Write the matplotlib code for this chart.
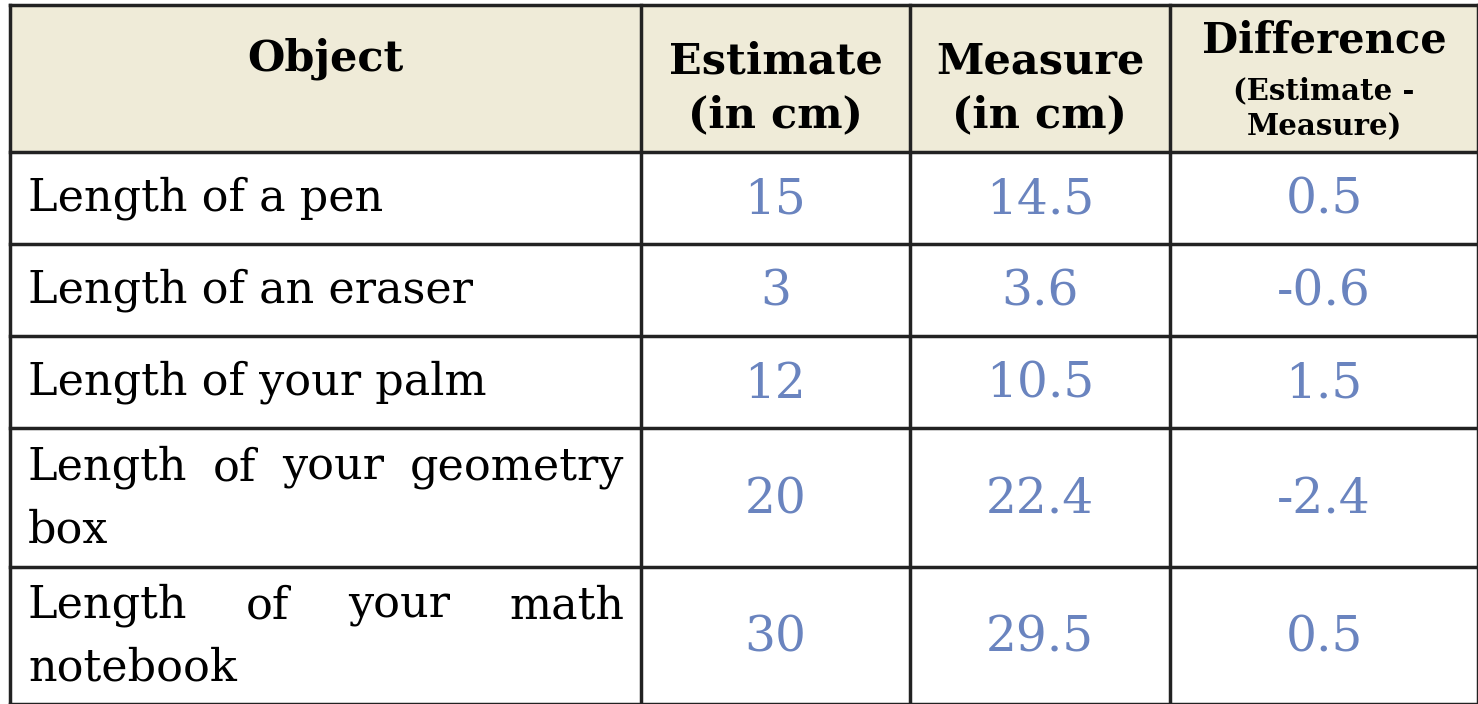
import matplotlib
matplotlib.use("Agg")
import matplotlib.pyplot as plt

# table content
objects = ["Length of a pen", "Length of an eraser", "Length of your palm",
           "Length of your geometry box", "Length of your math notebook"]
estimates = ["15", "3", "12", "20", "30"]
measures = ["14.5", "3.6", "10.5", "22.4", "29.5"]
differences = ["0.5", "-0.6", "1.5", "-2.4", "0.5"]

# layout in pixels
col_x = [10, 641, 910, 1170, 1478]
row_y = [5, 152, 244, 336, 428, 567, 704]
wrap_lines = {3: ["Length of your geometry", "box"],
              4: ["Length of your math", "notebook"]}

HEAD_BG = "#efebd8"
NUM_COLOR = "#6a84bf"
SERIF = "DejaVu Serif"
BODY_FS = 32

fig = plt.figure(figsize=(14.78, 7.04), dpi=100)
ax = fig.add_axes([0, 0, 1, 1])
ax.set_xlim(0, 1478)
ax.set_ylim(704, 0)
ax.axis("off")

ax.add_patch(plt.Rectangle((col_x[0], row_y[0]), col_x[-1] - col_x[0],
                           row_y[1] - row_y[0], color=HEAD_BG, zorder=0))
for x in col_x:
    ax.plot([x, x], [row_y[0], row_y[-1]], color="#222222", lw=2.5)
for y in row_y:
    ax.plot([col_x[0], col_x[-1]], [y, y], color="#222222", lw=2.5)

# header
hy = (row_y[0] + row_y[1]) / 2
ax.text((col_x[0] + col_x[1]) / 2, hy - 20, "Object", ha="center", va="center",
        fontsize=31, fontweight="bold", family=SERIF)
for j, lab in enumerate(["Estimate\n(in cm)", "Measure\n(in cm)"]):
    ax.text((col_x[j + 1] + col_x[j + 2]) / 2, hy + 10, lab, ha="center",
            va="center", fontsize=31, fontweight="bold", family=SERIF,
            linespacing=1.35)
ax.text((col_x[3] + col_x[4]) / 2, hy - 38, "Difference", ha="center",
        va="center", fontsize=30, fontweight="bold", family=SERIF)
ax.text((col_x[3] + col_x[4]) / 2, hy + 30, "(Estimate -\nMeasure)", ha="center",
        va="center", fontsize=21, fontweight="bold", family=SERIF, linespacing=1.3)

fig.canvas.draw()
renderer = fig.canvas.get_renderer()
left, right = 28, 624

for i, obj in enumerate(objects):
    y0, y1 = row_y[i + 1], row_y[i + 2]
    yc = (y0 + y1) / 2
    if i in wrap_lines:
        first, second = wrap_lines[i]
        words = first.split()
        # justified first line
        arts = [ax.text(0, yc - 30, w, ha="left", va="center", fontsize=BODY_FS,
                        family=SERIF) for w in words]
        fig.canvas.draw()
        inv = ax.transData.inverted()
        widths = []
        for a in arts:
            bb = a.get_window_extent(renderer)
            p0 = inv.transform((bb.x0, bb.y0))
            p1 = inv.transform((bb.x1, bb.y0))
            widths.append(p1[0] - p0[0])
        gap = (right - left - sum(widths)) / (len(words) - 1)
        x = left
        for a, w in zip(arts, widths):
            a.set_x(x)
            x += w + gap
        ax.text(left, yc + 32, second, ha="left", va="center", fontsize=BODY_FS,
                family=SERIF)
    else:
        ax.text(left, yc, obj, ha="left", va="center", fontsize=BODY_FS, family=SERIF)
    for j, val in enumerate([estimates[i], measures[i], differences[i]]):
        ax.text((col_x[j + 1] + col_x[j + 2]) / 2, yc + 2, val, ha="center",
                va="center", fontsize=35, color=NUM_COLOR, family=SERIF)

fig.savefig("out.png", dpi=100)
